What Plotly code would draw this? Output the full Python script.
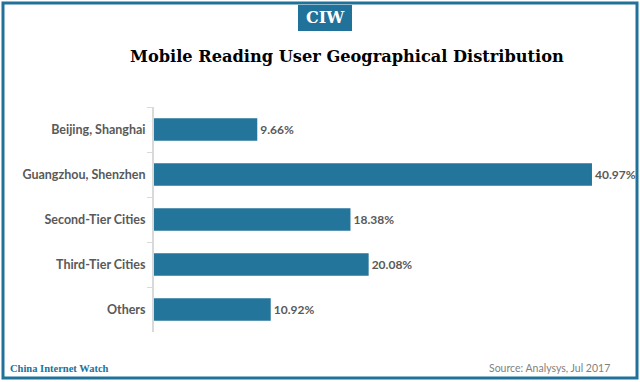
import plotly.graph_objects as go

categories = ["Beijing, Shanghai", "Guangzhou, Shenzhen", "Second-Tier Cities", "Third-Tier Cities", "Others"]
values = [9.66, 40.97, 18.38, 20.08, 10.92]
value_labels = ["9.66%", "40.97%", "18.38%", "20.08%", "10.92%"]

W, H = 640, 382
L, R, T, B = 154, 635, 107, 332  # plot area in pixels

def px(x):
    return (x - L) / (R - L)

def py(y):
    return (B - y) / (B - T)

teal = "#21729a"
bar_color = "#23759b"
gray = "#595959"

fig = go.Figure(go.Bar(
    x=values, y=categories, orientation="h",
    marker=dict(color=bar_color, line=dict(width=0)),
    text=value_labels, textposition="outside",
    textfont=dict(family="Lato", size=12, color=gray, weight="bold"),
    cliponaxis=False, width=0.5,
))

fig.update_layout(
    width=W, height=H,
    margin=dict(l=L, r=W - R, t=T, b=H - B, pad=0),
    paper_bgcolor="white", plot_bgcolor="white",
    showlegend=False,
    xaxis=dict(range=[0, (R - L) / 10.69], visible=False, fixedrange=True),
    yaxis=dict(autorange="reversed", showline=True, linecolor="#d9d9d9", linewidth=2,
               ticks="outside", tickson="boundaries", ticklen=5, tickcolor="#d9d9d9",
               tickwidth=1, showgrid=False, automargin=False, fixedrange=True,
               tickfont=dict(family="Lato", size=12.5, color=gray, weight="bold"),
               ticklabelstandoff=4),
    font=dict(family="Lato"),
    shapes=[
        dict(type="rect", xref="paper", yref="paper",
             x0=px(3), x1=px(637), y0=py(3), y1=py(378),
             line=dict(color=teal, width=3), fillcolor="rgba(0,0,0,0)", layer="above"),
        dict(type="rect", xref="paper", yref="paper",
             x0=px(298), x1=px(352), y0=py(5), y1=py(31),
             line=dict(width=0), fillcolor=teal),
    ],
    annotations=[
        dict(text="<b>CIW</b>", xref="paper", yref="paper", x=px(325), y=py(18),
             showarrow=False, font=dict(family="DejaVu Serif", size=16, color="white"),
             xanchor="center", yanchor="middle"),
        dict(text="<b>Mobile Reading User Geographical Distribution</b>", xref="paper", yref="paper",
             x=px(347), y=py(57), showarrow=False,
             font=dict(family="DejaVu Serif", size=16.2, color="black"),
             xanchor="center", yanchor="middle"),
        dict(text="<b>China Internet Watch</b>", xref="paper", yref="paper",
             x=px(8), y=py(368), showarrow=False,
             font=dict(family="Liberation Serif", size=10.5, color=teal),
             xanchor="left", yanchor="middle"),
        dict(text="Source: Analysys, Jul 2017", xref="paper", yref="paper",
             x=px(612), y=py(368), showarrow=False,
             font=dict(family="Lato", size=10.5, color="#7f7f7f"),
             xanchor="right", yanchor="middle"),
    ],
)

fig.write_html("out.html", config={"displayModeBar": False},
               post_script="document.body.style.margin='0';")
